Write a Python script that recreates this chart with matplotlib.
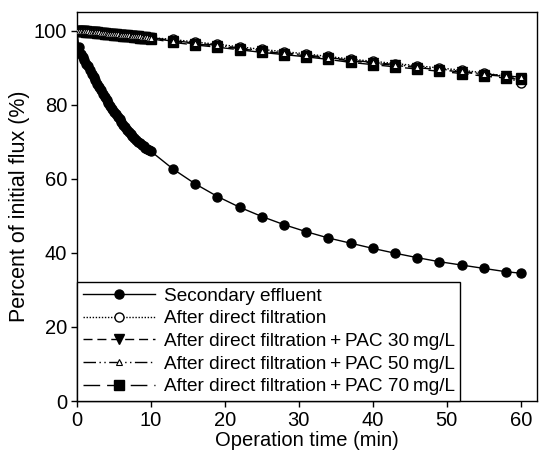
import matplotlib
matplotlib.use("Agg")
import matplotlib.pyplot as plt

plt.rcParams['font.family'] = ['Liberation Sans', 'DejaVu Sans']

# sampling times (min): dense logging for the first 10 min, then every 3 min
time_dense = [0, 0.25, 0.5, 0.75, 1, 1.25, 1.5, 1.75, 2, 2.25, 2.5, 2.75, 3, 3.25, 3.5, 3.75,
              4, 4.25, 4.5, 4.75, 5, 5.25, 5.5, 5.75, 6, 6.25, 6.5, 6.75, 7, 7.25, 7.5, 7.75,
              8, 8.25, 8.5, 8.75, 9, 9.25, 9.5, 9.75, 10]
time_sparse = [13, 16, 19, 22, 25, 28, 31, 34, 37, 40, 43, 46, 49, 52, 55, 58, 60]

secondary_dense = [100, 95.5, 93.8, 92.9, 92.0, 91.1, 90.3, 89.3, 88.4, 87.5, 86.6, 85.7, 84.8,
                   83.9, 83.0, 82.1, 81.2, 80.4, 79.6, 78.8, 78.1, 77.4, 76.7, 76.0, 75.3, 74.6,
                   73.9, 73.2, 72.6, 72.0, 71.5, 71.0, 70.5, 70.0, 69.6, 69.2, 68.8, 68.4, 68.1,
                   67.7, 67.4]
secondary_sparse = [62.6, 58.6, 55.2, 52.3, 49.8, 47.6, 45.7, 44.0, 42.6, 41.2, 39.9, 38.7,
                    37.6, 36.7, 35.8, 34.9, 34.5]

direct_dense = [100, 100, 99.9, 99.9, 99.9, 99.8, 99.8, 99.7, 99.7, 99.6, 99.6, 99.5, 99.5,
                99.4, 99.4, 99.3, 99.3, 99.2, 99.2, 99.1, 99.1, 99.0, 99.0, 98.9, 98.9, 98.8,
                98.8, 98.7, 98.7, 98.6, 98.6, 98.5, 98.5, 98.4, 98.4, 98.3, 98.3, 98.2, 98.2,
                98.1, 98.1]
direct_sparse = [97.6, 96.9, 96.3, 95.6, 94.9, 94.3, 93.7, 93.0, 92.3, 91.7, 91.1, 90.5, 89.9,
                 89.3, 88.6, 87.6, 85.8]

pac30_dense = [100, 100, 99.9, 99.9, 99.8, 99.8, 99.7, 99.7, 99.6, 99.6, 99.5, 99.5, 99.4,
               99.4, 99.3, 99.3, 99.2, 99.2, 99.1, 99.1, 99.0, 99.0, 98.9, 98.9, 98.8, 98.8,
               98.7, 98.7, 98.6, 98.6, 98.5, 98.5, 98.4, 98.4, 98.3, 98.3, 98.2, 98.2, 98.1,
               98.0, 98.0]
pac30_sparse = [97.1, 96.4, 95.8, 95.1, 94.4, 93.8, 93.2, 92.5, 91.8, 91.2, 90.6, 90.0, 89.4,
                88.8, 88.1, 87.6, 87.2]

pac50_dense = [100, 100, 99.9, 99.9, 99.9, 99.8, 99.8, 99.7, 99.7, 99.6, 99.6, 99.5, 99.5,
               99.4, 99.4, 99.3, 99.3, 99.2, 99.2, 99.1, 99.1, 99.0, 99.0, 98.9, 98.9, 98.8,
               98.8, 98.7, 98.7, 98.6, 98.6, 98.5, 98.5, 98.4, 98.4, 98.3, 98.3, 98.2, 98.2,
               98.1, 98.1]
pac50_sparse = [97.3, 96.6, 96.0, 95.3, 94.6, 94.0, 93.4, 92.7, 92.0, 91.4, 90.8, 90.2, 89.6,
                89.0, 88.3, 87.8, 87.4]

pac70_dense = [100, 99.9, 99.9, 99.8, 99.8, 99.7, 99.7, 99.6, 99.6, 99.5, 99.5, 99.4, 99.4,
               99.3, 99.3, 99.2, 99.2, 99.1, 99.0, 99.0, 98.9, 98.9, 98.8, 98.8, 98.7, 98.6,
               98.6, 98.5, 98.5, 98.4, 98.4, 98.3, 98.3, 98.2, 98.1, 98.1, 98.0, 98.0, 97.9,
               97.9, 97.8]
pac70_sparse = [96.8, 96.1, 95.5, 94.8, 94.1, 93.5, 92.9, 92.2, 91.4, 90.8, 90.2, 89.6, 89.0,
                88.4, 87.7, 87.2, 86.8]

labels = ["Secondary effluent",
          "After direct filtration",
          "After direct filtration\u2009+\u2009PAC 30\u2009mg/L",
          "After direct filtration\u2009+\u2009PAC 50\u2009mg/L",
          "After direct filtration\u2009+\u2009PAC 70\u2009mg/L"]

time = time_dense + time_sparse

fig = plt.figure(figsize=(5.51, 4.57), dpi=100)
ax = fig.add_axes([0.1397, 0.1225, 0.8349, 0.8512])

lw = 1.0
ax.plot(time, secondary_dense + secondary_sparse, '-', color='black', lw=lw, marker='o',
        ms=6.5, mfc='black', mec='black', label=labels[0], zorder=3)
ax.plot(time, direct_dense + direct_sparse, color='black', lw=lw, linestyle=(0, (1, 1.2)),
        marker='o', ms=6.5, mfc='white', mec='black', mew=1, label=labels[1], zorder=3)
ax.plot(time, pac30_dense + pac30_sparse, color='black', lw=lw, linestyle=(0, (6.5, 3.5)),
        marker='v', ms=7, mfc='black', mec='black', label=labels[2], zorder=4)
ax.plot(time, pac50_dense + pac50_sparse, color='black', lw=lw,
        linestyle=(0, (9, 2.5, 1, 2.5, 1, 2.5)), marker='^', ms=4.5, mfc='white',
        mec='black', mew=0.8, label=labels[3], zorder=6)
ax.plot(time, pac70_dense + pac70_sparse, color='black', lw=lw, linestyle=(0, (12, 5)),
        marker='s', ms=6.5, mfc='black', mec='black', label=labels[4], zorder=5)

ax.set_xlim(0, 62.2)
ax.set_ylim(0, 105)
ax.set_xticks([0, 10, 20, 30, 40, 50, 60])
ax.set_yticks([0, 20, 40, 60, 80, 100])
ax.tick_params(direction='out', length=4, width=1, labelsize=14.5, pad=3)
for s in ax.spines.values():
    s.set_linewidth(1)
ax.set_xlabel("Operation time (min)", fontsize=14.5, labelpad=1)
ax.set_ylabel("Percent of initial flux (%)", fontsize=15.5, labelpad=3)

leg = ax.legend(loc='lower left', bbox_to_anchor=(0, 0), borderaxespad=0,
                fontsize=13.7, handlelength=3.8, handletextpad=0.45, labelspacing=0.28,
                borderpad=0.3, fancybox=False, framealpha=1, edgecolor='black')
leg.get_frame().set_linewidth(1)
leg.set_zorder(10)

fig.savefig("out.png", dpi=100)
